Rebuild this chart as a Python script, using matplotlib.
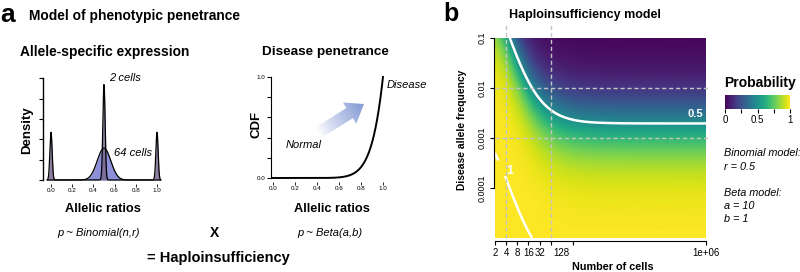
import math
import numpy as np
import matplotlib
matplotlib.use("Agg")
import matplotlib.pyplot as plt
from matplotlib.patches import FancyArrow
from matplotlib.colors import Normalize
import matplotlib.cm as cm

plt.rcParams['font.family'] = ['Liberation Sans', 'DejaVu Sans']

# ---------------- model parameters / data ----------------
BINOM_R = 0.5            # Binomial model: r
BETA_A = 10              # Beta model: a
BETA_B = 1               # Beta model: b
DENSITY_CELLS = [64, 2]  # cells shown in allele-specific expression panel
DENSITY_LABELS = ["64 cells", "2 cells"]
KERNEL_BW = 0.0106
ODDS_SCALE = 2.0
N_MIN, N_MAX = 2, 1e6
F_MIN, F_MAX = 1e-5, 0.1
CONTOUR_LEVELS = [0.5, 0.999]
CONTOUR_NAMES = {0.5: "0.5", 0.999: "1"}
GUIDE_CELLS = [4, 64]
GUIDE_FREQS = [0.01, 0.001]
X_TICKS = [2, 4, 8, 16, 32, 64, 256, 1e6]
X_TICK_LABELS = ["2", "4", "8", "16", "32", "", "", "1e+06"]
X_EXTRA_LABEL = 128
Y_TICKS = [0.1, 0.01, 0.001, 0.0001]
Y_TICK_LABELS = ["0.1", "0.01", "0.001", "0.0001"]
CB_TICKS = [0, 0.25, 0.5, 0.75, 1]
CB_TICK_LABELS = ["0", "", "0.5", "", "1"]


def binom_pmf(n, r):
    sd = math.sqrt(n * r * (1 - r))
    k0 = max(0, int(n * r - 15 * sd))
    k1 = min(n, int(n * r + 15 * sd) + 1)
    k = np.arange(k0, k1 + 1)
    base = (math.lgamma(n + 1) - math.lgamma(k0 + 1) - math.lgamma(n - k0 + 1)
            + k0 * math.log(r) + (n - k0) * math.log(1 - r))
    steps = np.log((n - k[:-1]) / (k[:-1] + 1.0)) + math.log(r / (1 - r))
    logp = base + np.concatenate([[0.0], np.cumsum(steps)])
    return k, np.exp(logp)


def beta_cdf(x, a, b):
    # regularized incomplete beta for b = 1
    return np.clip(x, 0, 1) ** a


def penetrance(n):
    k, p = binom_pmf(n, BINOM_R)
    return float(np.sum(p * beta_cdf(k / n, BETA_A, BETA_B)))


W, H = 800, 272
fig = plt.figure(figsize=(W / 100, H / 100), dpi=100)


def px_axes(x0, y0, x1, y1):
    return fig.add_axes([x0 / W, 1 - y1 / H, (x1 - x0) / W, (y1 - y0) / H])


# ---------------- density panel ----------------
axd = px_axes(43, 76, 165, 184)
xs = np.linspace(-0.035, 1.035, 1500)
fills = {64: "#8c90d8", 2: "#7a6790"}
alphas = {64: 1.0, 2: 0.85}
for n in DENSITY_CELLS:
    k, p = binom_pmf(n, BINOM_R)
    dens = np.zeros_like(xs)
    for kk, pp in zip(k, p):
        dens += pp * np.exp(-0.5 * ((xs - kk / n) / KERNEL_BW) ** 2) / (KERNEL_BW * math.sqrt(2 * math.pi))
    axd.fill_between(xs, 0, dens, color=fills[n], alpha=alphas[n], lw=0, zorder=2)
    axd.plot(xs, dens, color="black", lw=0.9, zorder=3)
axd.set_xlim(-0.0755, 1.0755)
axd.set_ylim(-0.788, 20.49)
for s in ["top", "right", "bottom"]:
    axd.spines[s].set_visible(False)
axd.spines["left"].set_bounds(0, 20)
axd.spines["left"].set_linewidth(1.0)
axd.set_yticks([0, 4, 8, 12, 16, 20])
axd.set_yticklabels([])
axd.set_xticks([0, 0.2, 0.4, 0.6, 0.8, 1.0])
axd.set_xticklabels(["0.0", "0.2", "0.4", "0.6", "0.8", "1.0"])
axd.tick_params(axis="y", length=3, width=0.8)
axd.tick_params(axis="x", length=2, width=0.6, labelsize=4.5, pad=1)
axd.patch.set_alpha(0)

# ---------------- CDF panel ----------------
axc = px_axes(271, 75, 390, 182)
xc = np.linspace(0, 1, 400)
axc.plot(xc, beta_cdf(xc, BETA_A, BETA_B), color="black", lw=1.4)
axc.set_xlim(-0.018, 1.064)
axc.set_ylim(-0.0396, 1.0198)
for s in ["top", "right", "bottom"]:
    axc.spines[s].set_visible(False)
axc.spines["left"].set_bounds(0, 1)
axc.set_yticks([0, 0.2, 0.4, 0.6, 0.8, 1.0])
axc.set_yticklabels(["0.0", "", "", "", "", "1.0"])
axc.set_xticks([0, 0.2, 0.4, 0.6, 0.8, 1.0])
axc.set_xticklabels(["0.0", "0.2", "0.4", "0.6", "0.8", "1.0"])
axc.tick_params(axis="y", length=3, width=0.8, labelsize=4.5, pad=1)
axc.tick_params(axis="x", length=2, width=0.6, labelsize=4.5, pad=1)
axc.patch.set_alpha(0)

# ---------------- heatmap ----------------
axh = px_axes(495, 38, 706, 238)
n_nodes = np.unique(np.round(np.logspace(np.log10(N_MIN), np.log10(N_MAX), 420)).astype(int))
f_nodes = np.logspace(np.log10(F_MIN), np.log10(F_MAX), 220)
pen = np.array([penetrance(int(n)) for n in n_nodes])
prob = 1.0 / (1.0 + f_nodes[:, None] / (ODDS_SCALE * pen[None, :]))
axh.pcolormesh(n_nodes, f_nodes, prob, shading="gouraud", cmap="viridis",
               vmin=0, vmax=1, rasterized=True)
axh.set_xscale("log")
axh.set_yscale("log")
axh.set_xlim(N_MIN, N_MAX)
axh.set_ylim(F_MIN, F_MAX)
cs_half = axh.contour(n_nodes, f_nodes, prob, levels=[CONTOUR_LEVELS[0]], colors="white", linewidths=1.8)
cs_one = axh.contour(n_nodes, f_nodes, prob, levels=[CONTOUR_LEVELS[1]], colors="white", linewidths=1.8)
labs = axh.clabel(cs_one, fmt=CONTOUR_NAMES, inline=True,
                  manual=[(3.1, 2.5e-4)], fontsize=9, inline_spacing=5)
for t in labs:
    t.set_rotation(0)
    t.set_fontweight("bold")
    t.set_position((4.9, 2.2e-4))
axh.text(5.0e5, 0.0030, CONTOUR_NAMES[0.5], color="white", fontsize=8, fontweight="bold",
         ha="center", va="center")
for n in GUIDE_CELLS:
    axh.plot([n, n], [F_MIN, 0.182], color="#c4c4c4", lw=1.0, ls=(0, (3, 2)), clip_on=False, zorder=4)
for f in GUIDE_FREQS:
    axh.plot([N_MIN, 1.13e6], [f, f], color="#c4c4c4", lw=1.0, ls=(0, (3, 2)), clip_on=False, zorder=4)
for s in ["top", "right"]:
    axh.spines[s].set_visible(False)
axh.spines["left"].set_position(("outward", 1))
axh.spines["bottom"].set_position(("outward", 2))
axh.spines["left"].set_bounds(1e-4, 0.1)
axh.spines["bottom"].set_bounds(N_MIN, N_MAX)
axh.set_xticks(X_TICKS)
axh.set_xticklabels(X_TICK_LABELS)
axh.set_xticks([X_EXTRA_LABEL], minor=True)
axh.set_xticklabels([str(X_EXTRA_LABEL)], minor=True)
axh.set_yticks(Y_TICKS)
axh.set_yticklabels(Y_TICK_LABELS, rotation=90, va="center")
axh.set_yticks([], minor=True)
axh.tick_params(axis="x", which="major", length=3, width=0.8, labelsize=7, pad=2)
axh.tick_params(axis="x", which="minor", length=0, labelsize=7, pad=5)
axh.tick_params(axis="y", length=3, width=0.8, labelsize=6.5, pad=2)

# colorbar
cax = px_axes(725, 95, 790, 109)
cb = fig.colorbar(cm.ScalarMappable(norm=Normalize(0, 1), cmap="viridis"), cax=cax,
                  orientation="horizontal")
cb.outline.set_visible(False)
cb.set_ticks(CB_TICKS)
cb.set_ticklabels(CB_TICK_LABELS)
cax.minorticks_off()
cax.tick_params(length=3, width=0.8, labelsize=7, pad=1)

# ---------------- overlay text ----------------
ov = fig.add_axes([0, 0, 1, 1])
ov.set_xlim(0, W)
ov.set_ylim(H, 0)
ov.axis("off")
ov.patch.set_alpha(0)

# gradient arrow
tail = np.array([318.0, 133.0])
tip = np.array([364.0, 104.0])
arrow = FancyArrow(tail[0], tail[1], tip[0] - tail[0], tip[1] - tail[1], width=12,
                   head_width=25, head_length=17, length_includes_head=True,
                   transform=ov.transData, facecolor="none", edgecolor="none")
ov.add_patch(arrow)
gx, gy = np.meshgrid(np.linspace(300, 380, 160), np.linspace(90, 145, 110))
d = tip - tail
t = ((gx - tail[0]) * d[0] + (gy - tail[1]) * d[1]) / (d @ d)
t = np.clip(t, 0, 1)
img = np.zeros(gx.shape + (4,))
img[..., 0] = 0x8d / 255
img[..., 1] = 0xa2 / 255
img[..., 2] = 0xd8 / 255
img[..., 3] = np.clip(t * 1.1, 0, 1) ** 0.9
im = ov.imshow(img, extent=(300, 380, 145, 90), origin="upper", interpolation="bilinear")
im.set_clip_path(arrow)
ov.set_xlim(0, W)
ov.set_ylim(H, 0)

def T(x, y, s, size, ha="left", weight="normal", style="normal", rot=0, va="center"):
    ov.text(x, y, s, fontsize=size, ha=ha, va=va, fontweight=weight, fontstyle=style,
            rotation=rot)

T(0, 15, "a", 19, weight="bold")
T(29, 16, "Model of phenotypic penetrance", 9.9, weight="bold")
T(20, 52, "Allele-specific expression", 9.9, weight="bold")
T(325, 52, "Disease penetrance", 9.7, ha="center", weight="bold")
T(125, 78, "2 cells", 8, ha="center", style="italic")
T(133.5, 153, "64 cells", 8, ha="center", style="italic")
T(27, 130, "Density", 9.5, ha="center", weight="bold", rot=90)
T(257, 124, "CDF", 9.5, ha="center", weight="bold", rot=90)
T(102.5, 209, "Allelic ratios", 9.2, ha="center", weight="bold")
T(332, 209, "Allelic ratios", 9.2, ha="center", weight="bold")
T(99, 233, "p ~ Binomial(n,r)", 8, ha="center", style="italic")
T(330, 233, "p ~ Beta(a,b)", 8, ha="center", style="italic")
T(214, 233, "X", 10, ha="center", weight="bold")
T(147, 258, "= Haploinsufficiency", 10.5, weight="bold")
T(387, 85, "Disease", 8, style="italic")
T(286, 145, "Normal", 8, style="italic")

T(443, 14, "b", 18, weight="bold")
T(585, 15, "Haploinsufficiency model", 9, ha="center", weight="bold")
T(462, 130, "Disease allele frequency", 7.4, ha="center", weight="bold", rot=90)
T(613, 267, "Number of cells", 7.8, ha="center", weight="bold")
T(724, 83, "Probability", 10, weight="bold")
T(724, 153, "Binomial model:", 7.8, style="italic")
T(724, 167, "r = 0.5", 7.8, style="italic")
T(724, 193, "Beta model:", 7.8, style="italic")
T(724, 206, "a = 10", 7.8, style="italic")
T(724, 219, "b = 1", 7.8, style="italic")

fig.savefig("out.png", dpi=100)
